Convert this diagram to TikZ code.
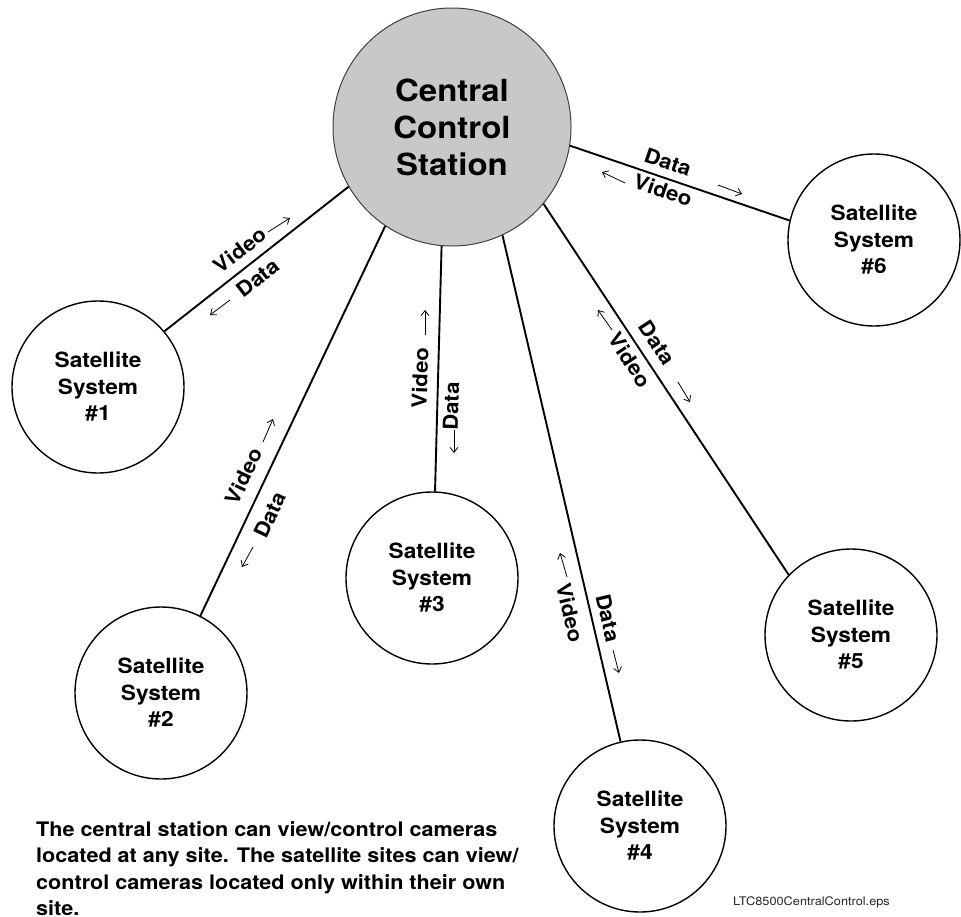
\documentclass[tikz,border=0pt]{standalone}
\usepackage{fontspec}
\setmainfont{TeX Gyre Heros}[FakeStretch=1.08]
\usetikzlibrary{arrows.meta}
\definecolor{centralgray}{RGB}{200,200,202}
\begin{document}
\begin{tikzpicture}[x=1pt,y=-1pt,
  central/.style={circle,draw=black!75,line width=1pt,fill=centralgray,minimum size=238pt,inner sep=0pt,align=center,font=\bfseries\fontsize{30.5}{37}\selectfont},
  sat/.style={circle,draw=black,line width=1.4pt,fill=white,minimum size=172pt,inner sep=0pt,align=center,font=\bfseries\fontsize{21}{26.5}\selectfont},
  link/.style={line width=1.9pt},
  lbl/.style={font=\bfseries\fontsize{20.5}{24}\selectfont,inner sep=0pt},
  flow/.style={line width=0.8pt,-{Straight Barb[length=5pt,width=8pt]}}
]
\useasboundingbox[fill=white] (0,0) rectangle (961,916);

% nodes
\node[central] (c) at (452,127) {Central\\Control\\Station};
\node[sat] (s1) at (98,387) {Satellite\\System\\\#1};
\node[sat] (s2) at (161,693) {Satellite\\System\\\#2};
\node[sat] (s3) at (432,578) {Satellite\\System\\\#3};
\node[sat] (s4) at (640,826) {Satellite\\System\\\#4};
\node[sat] (s5) at (851,635) {Satellite\\System\\\#5};
\node[sat] (s6) at (874,240) {Satellite\\System\\\#6};

% connectors
\draw[link] (c.210) -- (s1.40);
\draw[link] (c.236) -- (s2.63.4);
\draw[link] (c.265.7) -- (s3.88);
\draw[link] (c.295) -- (s4.103.7);
\draw[link] (c.320.4) -- (s5.136.9);
\draw[link] (c.351.7) -- (s6.167.3);

% labels
\node[lbl,rotate=37.8] (v1) at (240,250) {Video};
\node[lbl,rotate=37.8] (d1) at (258,278) {Data};
\node[lbl,rotate=64.5] (v2) at (244,476) {Video};
\node[lbl,rotate=64.5] (d2) at (270,515) {Data};
\node[lbl,rotate=88] (v3) at (420,378) {Video};
\node[lbl,rotate=88] (d3) at (451,406) {Data};
\node[lbl,rotate=-77] (v4) at (570,613) {Video};
\node[lbl,rotate=-77] (d4) at (608,618) {Data};
\node[lbl,rotate=-56.8] (v5) at (630,360) {Video};
\node[lbl,rotate=-56.8] (d5) at (657,343) {Data};
\node[lbl,rotate=-18.9] (v6) at (663,190) {Video};
\node[lbl,rotate=-18.9] (d6) at (668,162) {Data};

% flow arrows
\draw[flow] (268,232) -- (290,218);
\draw[flow] (230,300) -- (210,315);
\draw[flow] (263,442) -- (273,419);
\draw[flow] (253,547) -- (242,567);
\draw[flow] (425,335) -- (425,310);
\draw[flow] (454,430) -- (454,453);
\draw[flow] (567,577) -- (560,553);
\draw[flow] (613,650) -- (619,673);
\draw[flow] (612,330) -- (598,310);
\draw[flow] (678,382) -- (690,402);
\draw[flow] (625,183) -- (602,172);
\draw[flow] (718,185) -- (742,194);

% texts
\node[anchor=north west,inner sep=0pt,align=left,font=\bfseries\fontsize{20}{26.5}\selectfont] (note) at (36,821)
 {The central station can view/control cameras\\located at any site. The satellite sites can view/\\control cameras located only within their own\\site.};
\node[anchor=base west,inner sep=0pt,text=black!85,font=\fontsize{11.8}{14}\selectfont] (file) at (733,905) {LTC8500CentralControl.eps};
\end{tikzpicture}
\end{document}
